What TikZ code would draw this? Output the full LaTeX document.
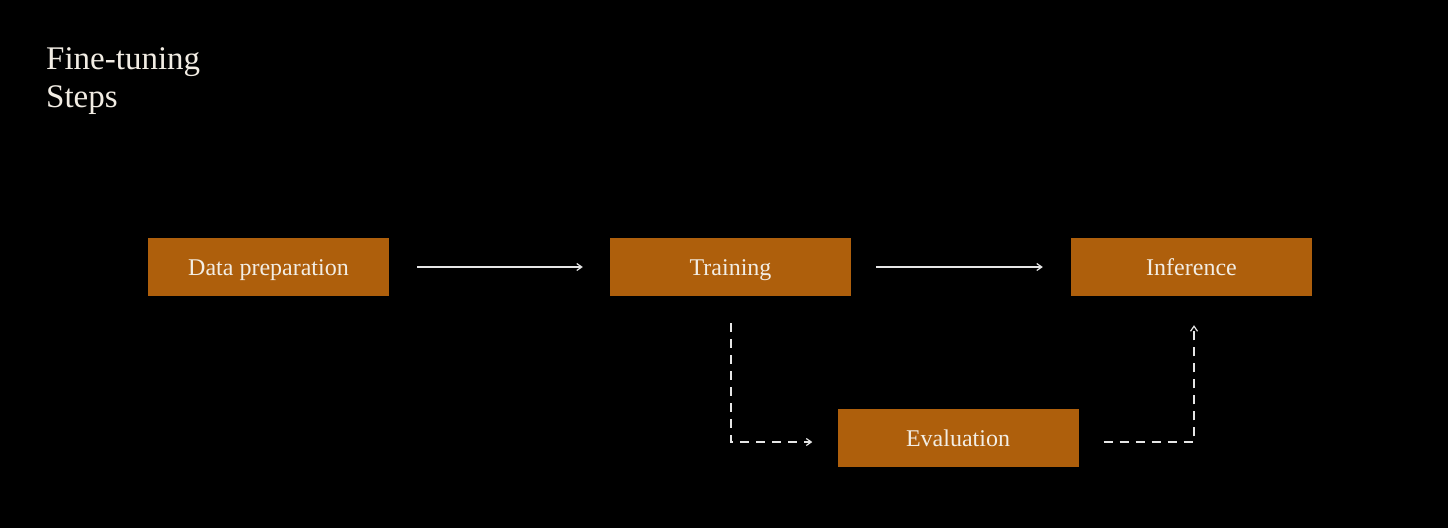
\documentclass[tikz,border=0pt]{standalone}
\usepackage{fontspec}
\setmainfont{Liberation Serif}
\usetikzlibrary{arrows.meta}
\definecolor{boxfill}{HTML}{AE5F0C}
\definecolor{txt}{HTML}{F2EDE4}
\definecolor{linecol}{HTML}{E6E6E6}
\tikzset{
  stepbox/.style={fill=boxfill, draw=none, minimum width=241pt, minimum height=58pt, inner sep=0pt, text=txt, font=\fontsize{24}{28}\selectfont, text height=18pt, text depth=2pt},
  flow/.style={draw=linecol, line width=1.2pt, -{Straight Barb[length=5pt,width=7pt]}},
  dflow/.style={flow, dash pattern=on 9pt off 7pt},
  titletext/.style={anchor=base west, text=txt, font=\fontsize{33}{40}\selectfont, inner sep=0pt}
}
\begin{document}
\begin{tikzpicture}[x=1pt,y=-1pt]
\fill[black] (0,0) rectangle (1448,528);
\useasboundingbox (0,0) rectangle (1448,528);
\node[titletext] (title1) at (46,69) {Fine-tuning};
\node[titletext] (title2) at (46,107) {Steps};
\node[stepbox] (data) at (268.5,267) {Data preparation};
\node[stepbox] (train) at (730.5,267) {Training};
\node[stepbox] (inf) at (1191.5,267) {Inference};
\node[stepbox] (eval) at (958,438) {Evaluation};
\draw[flow] ([xshift=28pt]data.east) -- ([xshift=-27pt]train.west);
\draw[flow] ([xshift=25pt]train.east) -- ([xshift=-28pt]inf.west);
\coordinate (c1) at (731,442);
\coordinate (c2) at (1194,442);
\draw[dflow] ([yshift=-27pt]train.south -| c1) -- (c1) -- ([xshift=-25pt]eval.west |- c1);
\draw[dflow] ([xshift=25pt]eval.east |- c2) -- (c2) -- ([yshift=-29pt]inf.south -| c2);
\end{tikzpicture}
\end{document}
